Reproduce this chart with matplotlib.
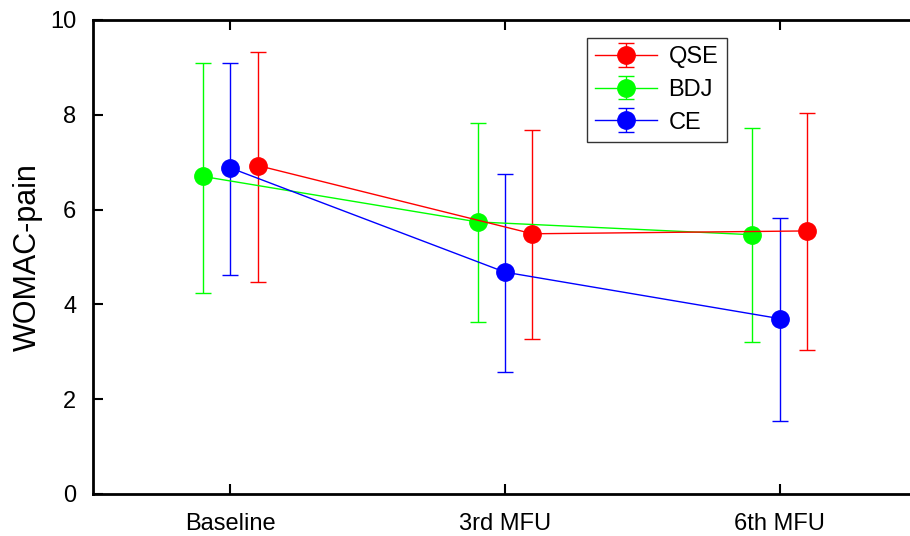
import matplotlib.pyplot as plt
import numpy as np

plt.rcParams['font.family'] = ['Liberation Sans', 'DejaVu Sans']

categories = ['Baseline', '3rd MFU', '6th MFU']
groups = ['QSE', 'BDJ', 'CE']
colors = {'QSE': '#ff0000', 'BDJ': '#00ff00', 'CE': '#0000ff'}
offsets = {'QSE': 0.1, 'BDJ': -0.1, 'CE': 0.0}

# means and error bar ends
mean_qse = [6.93, 5.49, 5.55]
low_qse = [4.48, 3.27, 3.03]
high_qse = [9.33, 7.68, 8.03]

mean_bdj = [6.70, 5.74, 5.47]
low_bdj = [4.25, 3.62, 3.20]
high_bdj = [9.10, 7.82, 7.72]

mean_ce = [6.88, 4.68, 3.70]
low_ce = [4.62, 2.58, 1.55]
high_ce = [9.10, 6.75, 5.82]

data = {
    'QSE': (mean_qse, low_qse, high_qse),
    'BDJ': (mean_bdj, low_bdj, high_bdj),
    'CE': (mean_ce, low_ce, high_ce),
}

fig = plt.figure(figsize=(9.1, 5.36), dpi=100)
ax = fig.add_axes([93 / 910, 42 / 536, 824 / 910, 474 / 536])

x = np.arange(len(categories))
handles = {}
for g in ['BDJ', 'CE', 'QSE']:
    m, lo, hi = [np.array(v) for v in data[g]]
    err = [m - lo, hi - m]
    h = ax.errorbar(x + offsets[g], m, yerr=err, color=colors[g], marker='o',
                    markersize=12.5, lw=1, elinewidth=1, capsize=6, capthick=1,
                    label=g)
    handles[g] = h

ax.set_xlim(-0.5, 2.5)
ax.set_ylim(0, 10)
ax.set_xticks(x)
ax.set_xticklabels(categories, fontsize=18)
ax.set_yticks([0, 2, 4, 6, 8, 10])
ax.set_ylabel('WOMAC-pain', fontsize=22, labelpad=5)
ax.tick_params(direction='in', length=7, width=1.5, labelsize=17,
               top=True, right=False)
ax.tick_params(axis='x', pad=14)
ax.tick_params(axis='y', pad=12)
for s in ['left', 'bottom', 'top']:
    ax.spines[s].set_linewidth(2)
ax.spines['right'].set_visible(False)

leg = ax.legend([handles[g] for g in groups], groups, loc='upper left',
                bbox_to_anchor=((587 - 93) / 824, (494 - 38) / 474),
                fontsize=17, fancybox=False, edgecolor='#333333',
                framealpha=1, handlelength=2.6, handletextpad=0.5,
                borderpad=0.35, labelspacing=0.45, borderaxespad=0)
leg.get_frame().set_linewidth(1)

fig.savefig('out.png', dpi=100)
